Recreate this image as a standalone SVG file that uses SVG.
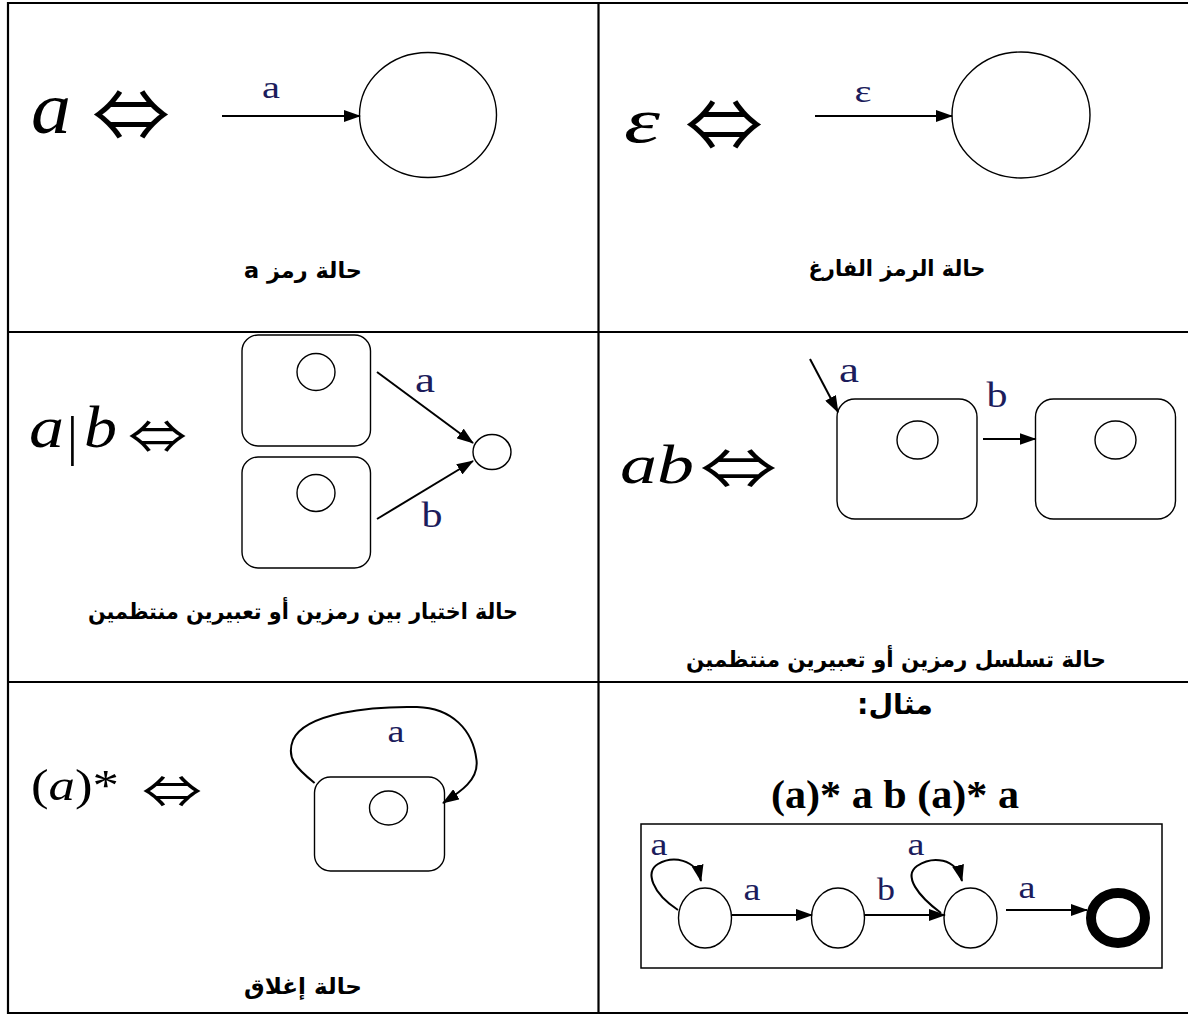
<svg xmlns="http://www.w3.org/2000/svg" width="1188" height="1014" viewBox="0 0 1188 1014">
<style>
.grid{stroke:#000;stroke-width:2.2;fill:none}
.st{fill:none;stroke:#000;stroke-width:1.4}
.box{fill:#fff;stroke:#000;stroke-width:1.4}
.edge{fill:none;stroke:#000;stroke-width:2}
.lbl{font-family:"Liberation Serif",serif;fill:#1c1c5c;text-anchor:middle}
.math{font-family:"Liberation Serif",serif;fill:#000}
.iff{font-family:"Noto Sans CJK JP","DejaVu Sans",sans-serif;fill:#000}
.cap{font-family:"DejaVu Sans",sans-serif;font-weight:bold;fill:#000;text-anchor:middle}
</style>
<defs>
<marker id="ah" viewBox="0 0 17 12" refX="16" refY="6" markerWidth="17" markerHeight="12" markerUnits="userSpaceOnUse" orient="auto">
<path d="M0,0 L17,6 L0,12 z" fill="#000"/>
</marker>
</defs>
<rect width="1188" height="1014" fill="#fff"/>
<g id="table">
<path class="grid" d="M8,3 H1190 M8,332 H1190 M8,682 H1190 M8,1013 H1190 M8,2 V1014 M598.5,2 V1014"/>
</g>

<g id="cell-a">
<text class="math" x="31" y="133" font-size="74" font-style="italic" textLength="40" lengthAdjust="spacingAndGlyphs">a</text>
<text class="iff" x="92" y="141" font-size="72" textLength="78" lengthAdjust="spacingAndGlyphs">⇔</text>
<ellipse id="state-a" class="st" cx="428" cy="115" rx="68.5" ry="62.5"/>
<text class="lbl" x="271" y="98" font-size="32" textLength="18" lengthAdjust="spacingAndGlyphs">a</text>
<text class="cap" x="303" y="278" font-size="22" direction="rtl" textLength="118" lengthAdjust="spacingAndGlyphs">حالة رمز a</text>
</g>

<g id="cell-eps">
<text class="math" x="624" y="142" font-size="64" font-style="italic" textLength="36" lengthAdjust="spacingAndGlyphs">ε</text>
<text class="iff" x="685" y="151" font-size="72" textLength="78" lengthAdjust="spacingAndGlyphs">⇔</text>
<ellipse id="state-eps" class="st" cx="1021" cy="115" rx="69" ry="63"/>
<text class="lbl" x="863" y="102" font-size="32" textLength="17" lengthAdjust="spacingAndGlyphs">ε</text>
<text class="cap" x="897" y="276" font-size="22" direction="rtl" textLength="177" lengthAdjust="spacingAndGlyphs">حالة الرمز الفارغ</text>
</g>

<g id="cell-or">
<text class="math" x="29" y="447" font-size="60" font-style="italic" textLength="35" lengthAdjust="spacingAndGlyphs">a</text>
<text class="math" x="67" y="454" font-size="54">|</text>
<text class="math" x="84" y="447" font-size="60" font-style="italic" textLength="33" lengthAdjust="spacingAndGlyphs">b</text>
<text class="iff" x="128" y="453" font-size="46" textLength="59" lengthAdjust="spacingAndGlyphs">⇔</text>
<rect id="or-box1" class="box" x="242" y="335" width="128.5" height="111" rx="16"/>
<ellipse class="st" cx="316" cy="372" rx="19" ry="18.5"/>
<rect id="or-box2" class="box" x="242" y="457" width="128.5" height="111" rx="16"/>
<ellipse class="st" cx="316" cy="493" rx="19" ry="18.5"/>
<ellipse id="or-final" class="st" cx="492" cy="452" rx="19" ry="17.5"/>
<text class="lbl" x="425" y="392" font-size="36" textLength="20" lengthAdjust="spacingAndGlyphs">a</text>
<text class="lbl" x="432" y="527" font-size="36" textLength="21" lengthAdjust="spacingAndGlyphs">b</text>
<text class="cap" x="303" y="619" font-size="22" direction="rtl" textLength="430" lengthAdjust="spacingAndGlyphs">حالة اختيار بين رمزين أو تعبيرين منتظمين</text>
</g>

<g id="cell-seq">
<text class="math" x="620" y="483" font-size="54" font-style="italic" textLength="74" lengthAdjust="spacingAndGlyphs">ab</text>
<text class="iff" x="700" y="489" font-size="56" textLength="77" lengthAdjust="spacingAndGlyphs">⇔</text>
<rect id="seq-box1" class="box" x="837" y="399" width="140" height="120" rx="18"/>
<ellipse class="st" cx="917.5" cy="440" rx="20.5" ry="19"/>
<rect id="seq-box2" class="box" x="1035.5" y="399" width="140" height="120" rx="18"/>
<ellipse class="st" cx="1115.5" cy="440" rx="20.5" ry="19"/>
<text class="lbl" x="849" y="382" font-size="36" textLength="20" lengthAdjust="spacingAndGlyphs">a</text>
<text class="lbl" x="997" y="407" font-size="36" textLength="21" lengthAdjust="spacingAndGlyphs">b</text>
<text class="cap" x="896" y="667" font-size="22" direction="rtl" textLength="420" lengthAdjust="spacingAndGlyphs">حالة تسلسل رمزين أو تعبيرين منتظمين</text>
</g>

<g id="cell-star">
<text class="math" x="31" y="800" font-size="44" textLength="88" lengthAdjust="spacingAndGlyphs">(<tspan font-style="italic">a</tspan>)*</text>
<text class="iff" x="142" y="808" font-size="44" textLength="60" lengthAdjust="spacingAndGlyphs">⇔</text>
<rect id="star-box" class="box" x="314.5" y="777" width="130" height="94" rx="16"/>
<ellipse class="st" cx="388.5" cy="808" rx="19" ry="17"/>
<text class="lbl" x="396" y="742" font-size="31" textLength="17" lengthAdjust="spacingAndGlyphs">a</text>
<text class="cap" x="303" y="994" font-size="22" direction="rtl" textLength="118" lengthAdjust="spacingAndGlyphs">حالة إغلاق</text>
</g>

<g id="cell-example">
<text class="cap" x="895" y="714" font-size="28" direction="rtl" textLength="76" lengthAdjust="spacingAndGlyphs">مثال:</text>
<text class="math" x="895" y="808" font-size="40" font-weight="bold" text-anchor="middle" textLength="248" lengthAdjust="spacingAndGlyphs">(a)* a b (a)* a</text>
<rect id="ex-frame" x="641" y="824" width="521" height="144" fill="none" stroke="#000" stroke-width="1.5"/>
<ellipse id="q0" class="st" cx="705" cy="918" rx="26.5" ry="30"/>
<ellipse id="q1" class="st" cx="838" cy="918" rx="26.5" ry="30"/>
<ellipse id="q2" class="st" cx="970.5" cy="918" rx="26.5" ry="30"/>
<ellipse id="q3" cx="1118" cy="918" rx="27" ry="25" fill="none" stroke="#000" stroke-width="10"/>
<text class="lbl" x="659" y="855" font-size="31" textLength="17" lengthAdjust="spacingAndGlyphs">a</text>
<text class="lbl" x="752" y="900" font-size="31" textLength="17" lengthAdjust="spacingAndGlyphs">a</text>
<text class="lbl" x="886" y="900" font-size="31" textLength="18" lengthAdjust="spacingAndGlyphs">b</text>
<text class="lbl" x="916" y="855" font-size="31" textLength="17" lengthAdjust="spacingAndGlyphs">a</text>
<text class="lbl" x="1027" y="898" font-size="31" textLength="17" lengthAdjust="spacingAndGlyphs">a</text>
</g>

<g id="connectors">
<line class="edge" x1="222" y1="116" x2="360" y2="116" marker-end="url(#ah)"/>
<line class="edge" x1="815" y1="116" x2="952" y2="116" marker-end="url(#ah)"/>
<line class="edge" x1="377" y1="372" x2="473" y2="443" marker-end="url(#ah)"/>
<line class="edge" x1="377" y1="519" x2="473" y2="461" marker-end="url(#ah)"/>
<line class="edge" x1="810" y1="359" x2="838" y2="412" marker-end="url(#ah)"/>
<line class="edge" x1="983" y1="439" x2="1035.5" y2="439" marker-end="url(#ah)"/>
<path class="edge" d="M314.6,783 C296,768 286,758 293,740 C305,713 370,706 417,707 C452,708 473,730 476.5,760 C479,780 460,792 443,803" marker-end="url(#ah)"/>
<line class="edge" x1="732" y1="915" x2="812" y2="915" marker-end="url(#ah)"/>
<line class="edge" x1="864.5" y1="915" x2="945" y2="915" marker-end="url(#ah)"/>
<line class="edge" x1="1006" y1="910" x2="1087" y2="910" marker-end="url(#ah)"/>
<path class="edge" d="M678,910 C652,893 645,872 658,864 C672,856 696,858 701,881" marker-end="url(#ah)"/>
<path class="edge" d="M941,913 C918,896 903,876 917,866 C932,856 956,857 962,881" marker-end="url(#ah)"/>
</g>
</svg>
